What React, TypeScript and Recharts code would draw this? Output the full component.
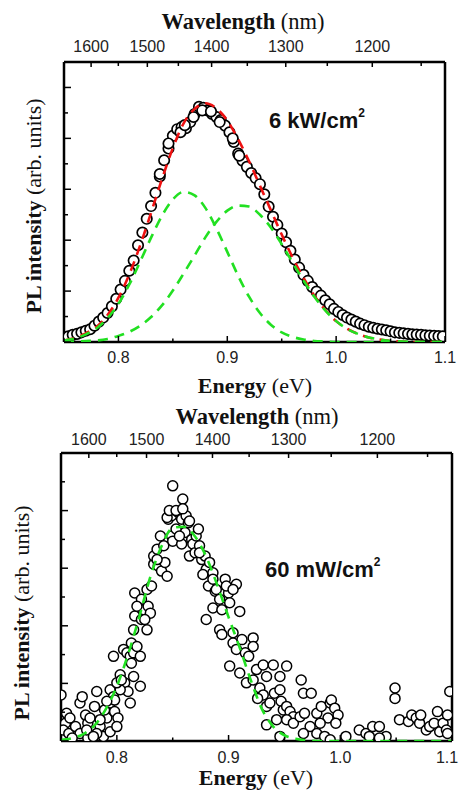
import React from 'react';
import { ComposedChart, Line, Scatter, XAxis, YAxis } from 'recharts';

// PL spectrum at 6 kW/cm2, [energy (eV), intensity (arb.)]
const highPower: [number, number][] = [
    [0.750, 0.09], [0.754, 0.11], [0.758, 0.14], [0.762, 0.16], [0.766, 0.19], [0.770, 0.22],
    [0.774, 0.25], [0.778, 0.32], [0.782, 0.40], [0.786, 0.48], [0.790, 0.57], [0.794, 0.70],
    [0.798, 0.85], [0.802, 1.03], [0.806, 1.20], [0.810, 1.40], [0.814, 1.60], [0.818, 1.90],
    [0.822, 2.15], [0.826, 2.42], [0.830, 2.67], [0.834, 2.93], [0.838, 3.25], [0.842, 3.57],
    [0.846, 3.80], [0.850, 4.05], [0.854, 4.18], [0.858, 4.22], [0.862, 4.20], [0.866, 4.32],
    [0.870, 4.48], [0.874, 4.62], [0.878, 4.60], [0.882, 4.55], [0.886, 4.48], [0.890, 4.42],
    [0.894, 4.36], [0.898, 4.25], [0.902, 4.12], [0.906, 3.93], [0.910, 3.70], [0.914, 3.56],
    [0.918, 3.44], [0.922, 3.32], [0.926, 3.22], [0.930, 3.10], [0.934, 2.90], [0.938, 2.66],
    [0.942, 2.46], [0.946, 2.30], [0.950, 2.13], [0.954, 1.96], [0.958, 1.79], [0.962, 1.62],
    [0.966, 1.46], [0.970, 1.32], [0.974, 1.20], [0.978, 1.08], [0.982, 0.99], [0.986, 0.91],
    [0.990, 0.82], [0.994, 0.74], [0.998, 0.65], [1.002, 0.59], [1.006, 0.53], [1.010, 0.48],
    [1.014, 0.44], [1.018, 0.40], [1.022, 0.36], [1.026, 0.33], [1.030, 0.30], [1.034, 0.28],
    [1.038, 0.26], [1.042, 0.245], [1.046, 0.23], [1.050, 0.21], [1.054, 0.19], [1.058, 0.18],
    [1.062, 0.17], [1.066, 0.16], [1.070, 0.15], [1.074, 0.145], [1.078, 0.14], [1.082, 0.13],
    [1.086, 0.125], [1.090, 0.12], [1.094, 0.115], [1.098, 0.11],
    [0.857, 4.12], [0.861, 4.26], [0.869, 4.42], [0.877, 4.55], [0.885, 4.53], [0.893, 4.32],
    [0.905, 4.00], [0.911, 3.66], [0.846, 3.90], [0.838, 3.30],
];

// fit curves, sampled every 10 meV
const fitEnergy = [
    0.75, 0.76, 0.77, 0.78, 0.79, 0.80, 0.81, 0.82, 0.83, 0.84, 0.85, 0.86, 0.87, 0.88, 0.89, 0.90, 0.91, 0.92,
    0.93, 0.94, 0.95, 0.96, 0.97, 0.98, 0.99, 1.00, 1.01, 1.02, 1.03, 1.04, 1.05, 1.06, 1.07, 1.08, 1.09, 1.10,
];
const fitTotal = [
    0.03, 0.08, 0.17, 0.30, 0.53, 0.87, 1.33, 1.90, 2.54, 3.20, 3.81, 4.30, 4.58, 4.69, 4.59, 4.35, 3.98, 3.55,
    3.07, 2.59, 2.11, 1.66, 1.26, 0.91, 0.63, 0.41, 0.26, 0.16, 0.09, 0.05, 0.02, 0.01, 0, 0, 0, 0,
];
const fitLow = [
    0.03, 0.07, 0.15, 0.27, 0.47, 0.75, 1.13, 1.58, 2.05, 2.48, 2.80, 2.95, 2.88, 2.63, 2.23, 1.77, 1.30, 0.89,
    0.57, 0.34, 0.19, 0.10, 0.05, 0.02, 0.01, 0, 0, 0, 0, 0, 0, 0, 0, 0, 0, 0,
];
const fitHigh = [
    0, 0.01, 0.02, 0.03, 0.06, 0.12, 0.20, 0.32, 0.49, 0.72, 1.01, 1.35, 1.70, 2.06, 2.36, 2.58, 2.68, 2.66,
    2.50, 2.25, 1.92, 1.56, 1.21, 0.89, 0.62, 0.41, 0.26, 0.16, 0.09, 0.05, 0.02, 0.01, 0, 0, 0, 0,
];

// PL spectrum at 60 mW/cm2
const lowPower: [number, number][] = [
    [0.750, 0.80], [0.754, 0.31], [0.755, 0.48], [0.758, 0.40], [0.752, 0.19], [0.757, 0.13], [0.763, 0.25],
    [0.767, 0.66], [0.769, 0.77], [0.772, 0.45], [0.774, 0.31], [0.767, 0.13], [0.782, 0.86], [0.780, 0.60],
    [0.776, 0.40], [0.785, 0.25], [0.788, 0.08], [0.782, 0.13], [0.791, 0.40], [0.789, 0.54], [0.794, 0.89],
    [0.797, 0.77], [0.794, 0.66], [0.798, 0.51], [0.801, 0.40], [0.798, 0.71], [0.760, 0.05], [0.774, 0.05],
    [0.797, 1.47], [0.803, 1.15], [0.806, 1.59], [0.809, 1.53], [0.812, 1.47], [0.815, 1.53], [0.821, 1.47],
    [0.813, 1.35], [0.807, 1.01], [0.810, 0.86], [0.812, 0.66], [0.803, 0.89], [0.815, 1.12], [0.815, 1.93],
    [0.816, 2.17], [0.822, 2.11], [0.824, 2.28], [0.827, 1.93], [0.816, 2.57], [0.822, 2.46], [0.828, 2.34],
    [0.827, 2.63], [0.831, 2.69], [0.833, 3.07], [0.833, 3.21], [0.836, 3.33], [0.837, 3.04], [0.840, 2.95],
    [0.845, 2.86], [0.843, 3.10], [0.839, 3.56], [0.846, 3.85], [0.849, 3.56], [0.850, 3.47], [0.849, 3.91],
    [0.850, 4.43], [0.855, 3.97], [0.858, 3.85], [0.859, 4.20], [0.858, 3.42], [0.861, 3.62], [0.862, 3.91],
    [0.864, 3.79], [0.865, 3.21], [0.867, 3.50], [0.868, 3.42], [0.870, 3.27], [0.871, 3.56], [0.874, 3.39],
    [0.876, 3.15], [0.879, 3.21], [0.880, 2.98], [0.882, 2.69], [0.877, 2.89], [0.886, 2.92], [0.886, 2.81],
    [0.888, 2.60], [0.889, 2.63], [0.880, 2.11], [0.886, 2.31], [0.892, 2.46], [0.894, 2.28], [0.897, 2.81],
    [0.900, 2.57], [0.901, 2.40], [0.898, 2.69], [0.907, 2.72], [0.904, 2.63], [0.910, 2.25], [0.892, 1.93],
    [0.894, 1.85], [0.904, 1.88], [0.904, 1.70], [0.907, 1.59], [0.912, 1.76], [0.915, 1.53], [0.918, 1.47],
    [0.922, 1.79], [0.922, 1.64], [0.901, 1.30], [0.910, 1.18], [0.916, 1.01], [0.922, 1.06], [0.925, 1.24],
    [0.931, 1.32], [0.934, 1.12], [0.940, 1.32], [0.946, 1.12], [0.952, 1.30], [0.928, 0.92], [0.931, 0.80],
    [0.934, 0.60], [0.926, 0.74], [0.937, 0.66], [0.941, 0.83], [0.946, 0.89], [0.947, 0.69], [0.949, 0.54],
    [0.952, 0.60], [0.955, 0.51], [0.958, 0.42], [0.934, 0.28], [0.943, 0.37], [0.946, 0.08], [0.952, 0.37],
    [0.958, 0.31], [0.964, 0.42], [0.965, 1.06], [0.967, 0.83], [0.974, 0.83], [0.968, 0.48], [0.979, 0.48],
    [0.983, 0.60], [0.989, 0.40], [0.991, 0.66], [0.992, 0.71], [0.995, 0.57], [0.998, 0.45], [0.996, 0.31],
    [0.982, 0.31], [0.973, 0.25], [0.967, 0.13], [0.979, 0.13], [0.986, 0.08], [0.991, 0.02], [1.005, 0.08],
    [1.017, 0.19], [1.023, 0.13], [1.026, 0.08], [1.029, 0.25], [1.035, 0.25], [1.041, 0.08], [1.035, 0.05],
    [1.049, 0.92], [1.049, 0.74], [1.053, 0.37], [1.061, 0.34], [1.064, 0.45], [1.068, 0.40], [1.071, 0.31],
    [1.072, 0.45], [1.077, 0.19], [1.080, 0.25], [1.084, 0.31], [1.087, 0.51], [1.089, 0.16], [1.092, 0.31],
    [1.095, 0.19], [1.096, 0.45], [1.098, 0.86], [1.096, 0.13],
    [0.845, 3.88], [0.847, 4.00], [0.853, 4.00], [0.859, 4.03], [0.853, 3.68], [0.856, 3.56], [0.865, 3.82],
    [0.873, 3.68], [0.874, 3.27], [0.883, 3.10], [0.842, 3.39], [0.836, 3.15], [0.830, 2.22], [0.825, 2.11],
    [0.818, 2.34], [0.800, 1.01], [0.804, 1.06], [0.813, 1.70], [0.818, 1.64], [0.821, 0.95], [0.773, 0.19],
    [0.779, 0.08], [0.794, 0.16], [0.800, 0.25], [0.785, 0.37], [0.791, 0.69],
];
const lowFit = [
    0.02, 0.05, 0.12, 0.27, 0.55, 0.95, 1.50, 2.15, 2.85, 3.38, 3.70, 3.72, 3.55, 3.20, 2.70, 2.15, 1.62, 1.05,
    0.55, 0.25, 0.10, 0.04, 0.01, 0, 0, 0, 0, 0, 0, 0, 0, 0, 0, 0, 0, 0,
];

const energyTicks = [0.75, 0.8, 0.85, 0.9, 0.95, 1.0, 1.05, 1.1];
const wavelengthTicks = [1600, 1550, 1500, 1450, 1400, 1350, 1300, 1250, 1200, 1150];
const topYTicks = [0, 0.5, 1, 1.5, 2, 2.5, 3, 3.5, 4, 4.5, 5, 5.5];
const bottomYTicks = [0, 0.5, 1, 1.5, 2, 2.5, 3, 3.5, 4, 4.5, 5];

const HC = 1239.84; // eV*nm
const SERIF = '"Liberation Serif", "Times New Roman", serif';
const SANS = '"Liberation Sans", Arial, sans-serif';
const GREEN = '#22e022';
const RED = '#ee1111';

const toRows = (pairs: [number, number][]) => pairs.map(([e, v]) => ({ e, v }));
const fitRows = (vals: number[]) => fitEnergy.map((e, i) => ({ e, v: vals[i] }));

interface PanelProps {
    top: number;
    height: number;
    margin: { top: number; right: number; bottom: number; left: number };
    yMax: number;
    yTicks: number[];
    r: number;
    ring: number;
    points: { e: number; v: number }[];
    fits: { rows: { e: number; v: number }[]; color: string }[];
    note: string;
    noteX: number;
    noteY: number;
    waveTitle: [number, number];
    energyTitle: [number, number];
    yTitle: [number, number];
    topLabelDy: number;
    bottomLabelDy: number;
}

const Panel: React.FC<PanelProps> = (p) => {
    const BottomTick = (t: any) => {
        const val = t.payload.value;
        const major = Math.abs(val * 10 - Math.round(val * 10)) < 1e-6;
        return (
            <g>
                <line x1={t.x} x2={t.x} y1={t.y} y2={t.y - (major ? 6 : 3.5)} stroke="#000" strokeWidth={1.5} />
                {major && (
                    <text
                        x={Math.min(t.x, 447)}
                        y={t.y + p.bottomLabelDy}
                        textAnchor="middle"
                        fontFamily={SANS}
                        fontSize={16}
                        fill="#222"
                    >
                        {val.toFixed(1)}
                    </text>
                )}
            </g>
        );
    };

    const TopTick = (t: any) => {
        const nm = Math.round(HC / t.payload.value);
        const major = nm % 100 === 0;
        return (
            <g>
                <line x1={t.x} x2={t.x} y1={t.y} y2={t.y + (major ? 5 : 4)} stroke="#000" strokeWidth={1.5} />
                {major && (
                    <text x={t.x} y={t.y + p.topLabelDy} textAnchor="middle" fontFamily={SANS} fontSize={16} fill="#222">
                        {nm}
                    </text>
                )}
            </g>
        );
    };

    const LeftTick = (t: any) => {
        const major = Number.isInteger(t.payload.value);
        return <line x1={t.x} x2={t.x + (major ? 7 : 4)} y1={t.y} y2={t.y} stroke="#000" strokeWidth={1.5} />;
    };

    const waveLabel = () => (
        <text x={p.waveTitle[0]} y={p.waveTitle[1]} textAnchor="middle" fontFamily={SERIF} fontSize={22.5} fill="#111">
            <tspan fontWeight="bold">Wavelength</tspan>
            <tspan> (nm)</tspan>
        </text>
    );
    const energyLabel = () => (
        <text x={p.energyTitle[0]} y={p.energyTitle[1]} textAnchor="middle" fontFamily={SERIF} fontSize={22} fill="#111">
            <tspan fontWeight="bold">Energy</tspan>
            <tspan> (eV)</tspan>
        </text>
    );
    const yLabel = () => (
        <text
            transform={`translate(${p.yTitle[0]}, ${p.yTitle[1]}) rotate(-90)`}
            textAnchor="middle"
            fontFamily={SERIF}
            fontSize={22}
            fill="#111"
        >
            <tspan fontWeight="bold">PL intensity</tspan>
            <tspan> (arb. units)</tspan>
        </text>
    );
    const noteLabel = () => (
        <text x={p.noteX} y={p.noteY} fontFamily={SANS} fontSize={22} fontWeight="bold" fill="#111">
            {p.note}
            <tspan dy={-11} fontSize={12}>2</tspan>
        </text>
    );

    const axisLine = { stroke: '#000', strokeWidth: 2.5 };

    return (
        <div style={{ position: 'absolute', left: 0, top: p.top }}>
            <ComposedChart width={461} height={p.height} margin={p.margin}>
                <XAxis
                    dataKey="e"
                    type="number"
                    domain={[0.75, 1.1]}
                    ticks={energyTicks}
                    interval={0}
                    allowDataOverflow
                    height={1}
                    tickSize={0}
                    tickMargin={0}
                    tickLine={false}
                    axisLine={axisLine}
                    tick={BottomTick}
                    label={energyLabel}
                />
                <XAxis
                    xAxisId="top"
                    dataKey="e"
                    orientation="top"
                    type="number"
                    domain={[0.75, 1.1]}
                    ticks={wavelengthTicks.map((w) => HC / w)}
                    interval={0}
                    allowDataOverflow
                    height={1}
                    tickSize={0}
                    tickMargin={0}
                    tickLine={false}
                    axisLine={axisLine}
                    tick={TopTick}
                    label={waveLabel}
                />
                <YAxis
                    type="number"
                    domain={[0, p.yMax]}
                    ticks={p.yTicks}
                    interval={0}
                    allowDataOverflow
                    width={1}
                    tickSize={0}
                    tickMargin={0}
                    tickLine={false}
                    axisLine={axisLine}
                    tick={LeftTick}
                    label={yLabel}
                />
                <YAxis
                    yAxisId="r"
                    orientation="right"
                    type="number"
                    domain={[0, p.yMax]}
                    width={1}
                    tick={false}
                    tickLine={false}
                    axisLine={axisLine}
                    label={noteLabel}
                />
                {/* same energy domain as the bottom axis, so the points land in the same place */}
                <Scatter
                    xAxisId="top"
                    data={p.points}
                    dataKey="v"
                    isAnimationActive={false}
                    shape={(s: any) => <circle cx={s.cx} cy={s.cy} r={p.r} fill="#fff" stroke="#000" strokeWidth={p.ring} />}
                />
                {p.fits.map((f, i) => (
                    <Line
                        key={i}
                        data={f.rows}
                        dataKey="v"
                        type="monotone"
                        stroke={f.color}
                        strokeWidth={2.6}
                        strokeDasharray="10 7"
                        dot={false}
                        activeDot={false}
                        zIndex={700}
                        isAnimationActive={false}
                    />
                ))}
            </ComposedChart>
        </div>
    );
};

const App: React.FC = () => (
    <div style={{ position: 'absolute', left: 0, top: 0, width: 461, height: 791, background: '#fff' }}>
        <Panel
            top={0}
            height={400}
            margin={{ top: 61, right: 15, bottom: 57, left: 63 }}
            yMax={5.5}
            yTicks={topYTicks}
            r={5.2}
            ring={1.7}
            points={toRows(highPower)}
            fits={[
                { rows: fitRows(fitTotal), color: RED },
                { rows: fitRows(fitLow), color: GREEN },
                { rows: fitRows(fitHigh), color: GREEN },
            ]}
            note="6 kW/cm"
            noteX={269}
            noteY={128}
            waveTitle={[243, 29]}
            energyTitle={[255, 393]}
            yTitle={[41, 206]}
            topLabelDy={-10}
            bottomLabelDy={21}
        />
        <Panel
            top={395}
            height={396}
            margin={{ top: 57, right: 8, bottom: 49, left: 60 }}
            yMax={5}
            yTicks={bottomYTicks}
            r={5}
            ring={1.5}
            points={toRows(lowPower)}
            fits={[{ rows: fitRows(lowFit), color: GREEN }]}
            note="60 mW/cm"
            noteX={265}
            noteY={182}
            waveTitle={[257, 29]}
            energyTitle={[256, 390]}
            yTitle={[29, 218]}
            topLabelDy={-8}
            bottomLabelDy={22}
        />
    </div>
);

export default App;
